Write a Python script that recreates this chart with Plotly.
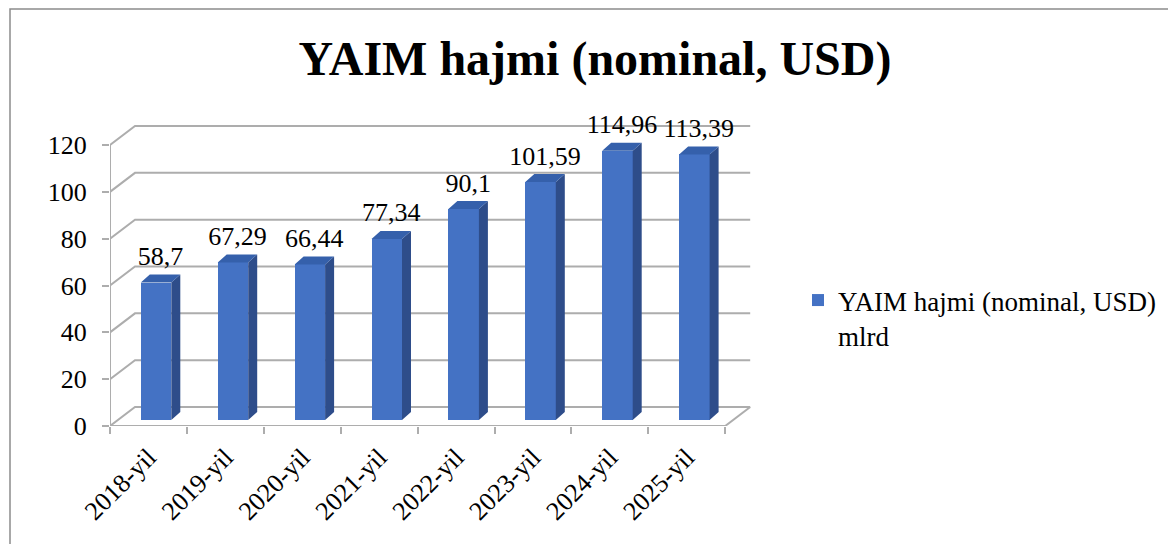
import plotly.graph_objects as go

# ---- data ----
categories = ["2018-yil", "2019-yil", "2020-yil", "2021-yil", "2022-yil", "2023-yil", "2024-yil", "2025-yil"]
values = [58.7, 67.29, 66.44, 77.34, 90.1, 101.59, 114.96, 113.39]
y_ticks = [0, 20, 40, 60, 80, 100, 120]
series_name = "YAIM hajmi (nominal, USD)<br>mlrd"
title_text = "<b>YAIM hajmi (nominal, USD)</b>"

# ---- geometry (pixels -> data units) ----
W, H = 1168, 544
ML, MR, MT, MB = 110, 415, 124, 118
plot_w = W - ML - MR
plot_h = H - MT - MB
KX = 76.9          # px per category
KY = 281 / 120     # px per value unit
x_range = [-0.5, -0.5 + plot_w / KX]
y_range = [0, plot_h / KY]

DX, DY = 25 / KX, 19 / KY          # wall depth
BOX, BOY = 7.6 / KX, 6 / KY         # bar front-face offset inside depth
BW = 30.5 / KX                      # bar width
BDX, BDY = 9 / KX, 8 / KY           # bar depth

FONT = "Liberation Serif, Times New Roman, serif"
GRID = "#adadad"
FRONT = "#4472c4"
SIDE = "#2e4d8a"
TOP = "#3560ab"

n = len(categories)
xi = list(range(n))
x_left, x_right = -0.5, n - 0.5

fig = go.Figure()

# bars (front faces)
fig.add_trace(go.Bar(
    x=[i + BOX for i in xi], y=values, base=[BOY] * n, width=BW,
    marker=dict(color=FRONT, line=dict(width=0)),
    name=series_name, showlegend=True, hoverinfo="skip",
))

# side and top faces
sx, sy = [], []
tx, ty = [], []
for i, v in zip(xi, values):
    xl = i + BOX - BW / 2
    xr = i + BOX + BW / 2
    b = BOY
    t = BOY + v
    sx += [xr, xr + BDX, xr + BDX, xr, xr, None]
    sy += [b, b + BDY, t + BDY, t, b, None]
    tx += [xl, xr, xr + BDX, xl + BDX, xl, None]
    ty += [t, t, t + BDY, t + BDY, t, None]
fig.add_trace(go.Scatter(x=sx, y=sy, fill="toself", fillcolor=SIDE, mode="lines",
                         line=dict(width=0, color=SIDE), showlegend=False, hoverinfo="skip"))
fig.add_trace(go.Scatter(x=tx, y=ty, fill="toself", fillcolor=TOP, mode="lines",
                         line=dict(width=0, color=TOP), showlegend=False, hoverinfo="skip"))

# data labels
labels = [f"{v:g}".replace(".", ",") for v in values]
fig.add_trace(go.Scatter(
    x=[i + BOX + BDX / 2 for i in xi], y=[BOY + v + 11 / KY for v in values],
    mode="text", text=labels, textposition="top center",
    textfont=dict(family=FONT, size=26, color="black"),
    showlegend=False, hoverinfo="skip", cliponaxis=False,
))

# walls / gridlines (below traces)
shapes = []
for v in y_ticks:
    path = (f"M{x_left},{v} L{x_left + DX},{v + DY} L{x_right + DX},{v + DY}")
    shapes.append(dict(type="path", path=path, xref="x", yref="y", layer="below",
                       line=dict(color=GRID, width=2)))
shapes.append(dict(type="line", x0=x_left, y0=0, x1=x_right, y1=0, xref="x", yref="y",
                   layer="below", line=dict(color=GRID, width=2)))
shapes.append(dict(type="line", x0=x_right, y0=0, x1=x_right + DX, y1=DY, xref="x", yref="y",
                   layer="below", line=dict(color=GRID, width=2)))
shapes.append(dict(type="line", x0=x_left, y0=0, x1=x_left, y1=y_ticks[-1], xref="x", yref="y",
                   layer="below", line=dict(color=GRID, width=2)))
# outer chart border
bx0 = (10 - ML) / plot_w
bx1 = (W + 5 - ML) / plot_w
by1 = (H - MB - 9) / plot_h
by0 = (H - MB - (H + 5)) / plot_h
shapes.append(dict(type="rect", xref="paper", yref="paper", x0=bx0, x1=bx1, y0=by0, y1=by1,
                   line=dict(color="#8c8c8c", width=1.5), layer="below"))

fig.update_layout(
    width=W, height=H,
    margin=dict(l=ML, r=MR, t=MT, b=MB),
    paper_bgcolor="white", plot_bgcolor="white",
    font=dict(family=FONT, color="black", size=26),
    title=dict(text=title_text, font=dict(family=FONT, size=48, color="black"),
               x=595 / W, xanchor="center", xref="container",
               y=1 - 58 / H, yanchor="middle", yref="container"),
    shapes=shapes,
    showlegend=True,
    legend=dict(x=798 / W, xref="container", y=1 - 276 / H, yref="container",
                xanchor="left", yanchor="top", valign="top",
                font=dict(family=FONT, size=27, color="black"),
                bgcolor="rgba(0,0,0,0)"),
    xaxis=dict(range=x_range, tickmode="array", tickvals=xi, ticktext=categories,
               tickangle=-45, ticks="", showgrid=False, zeroline=False, showline=False,
               ticklabelstandoff=10,
               tickfont=dict(family=FONT, size=26, color="black"), fixedrange=True),
    xaxis2=dict(range=x_range, overlaying="x", anchor="y", side="bottom",
                tickmode="array", tickvals=[i - 0.5 for i in range(n + 1)],
                ticks="outside", ticklen=7, tickcolor=GRID, tickwidth=2,
                showticklabels=False, showgrid=False, zeroline=False, showline=False,
                fixedrange=True),
    yaxis=dict(range=y_range, tickmode="array", tickvals=y_ticks,
               ticks="outside", ticklen=7, tickcolor=GRID, tickwidth=2,
               ticklabelstandoff=10,
               showgrid=False, zeroline=False, showline=False,
               tickfont=dict(family=FONT, size=26, color="black"), fixedrange=True),
    bargap=0,
)
fig.add_trace(go.Scatter(x=[x_left], y=[0], xaxis="x2", mode="markers",
                         marker=dict(opacity=0), showlegend=False, hoverinfo="skip"))

fig.write_html("out.html", config={"displayModeBar": False},
               post_script="document.body.style.margin='0px';")
